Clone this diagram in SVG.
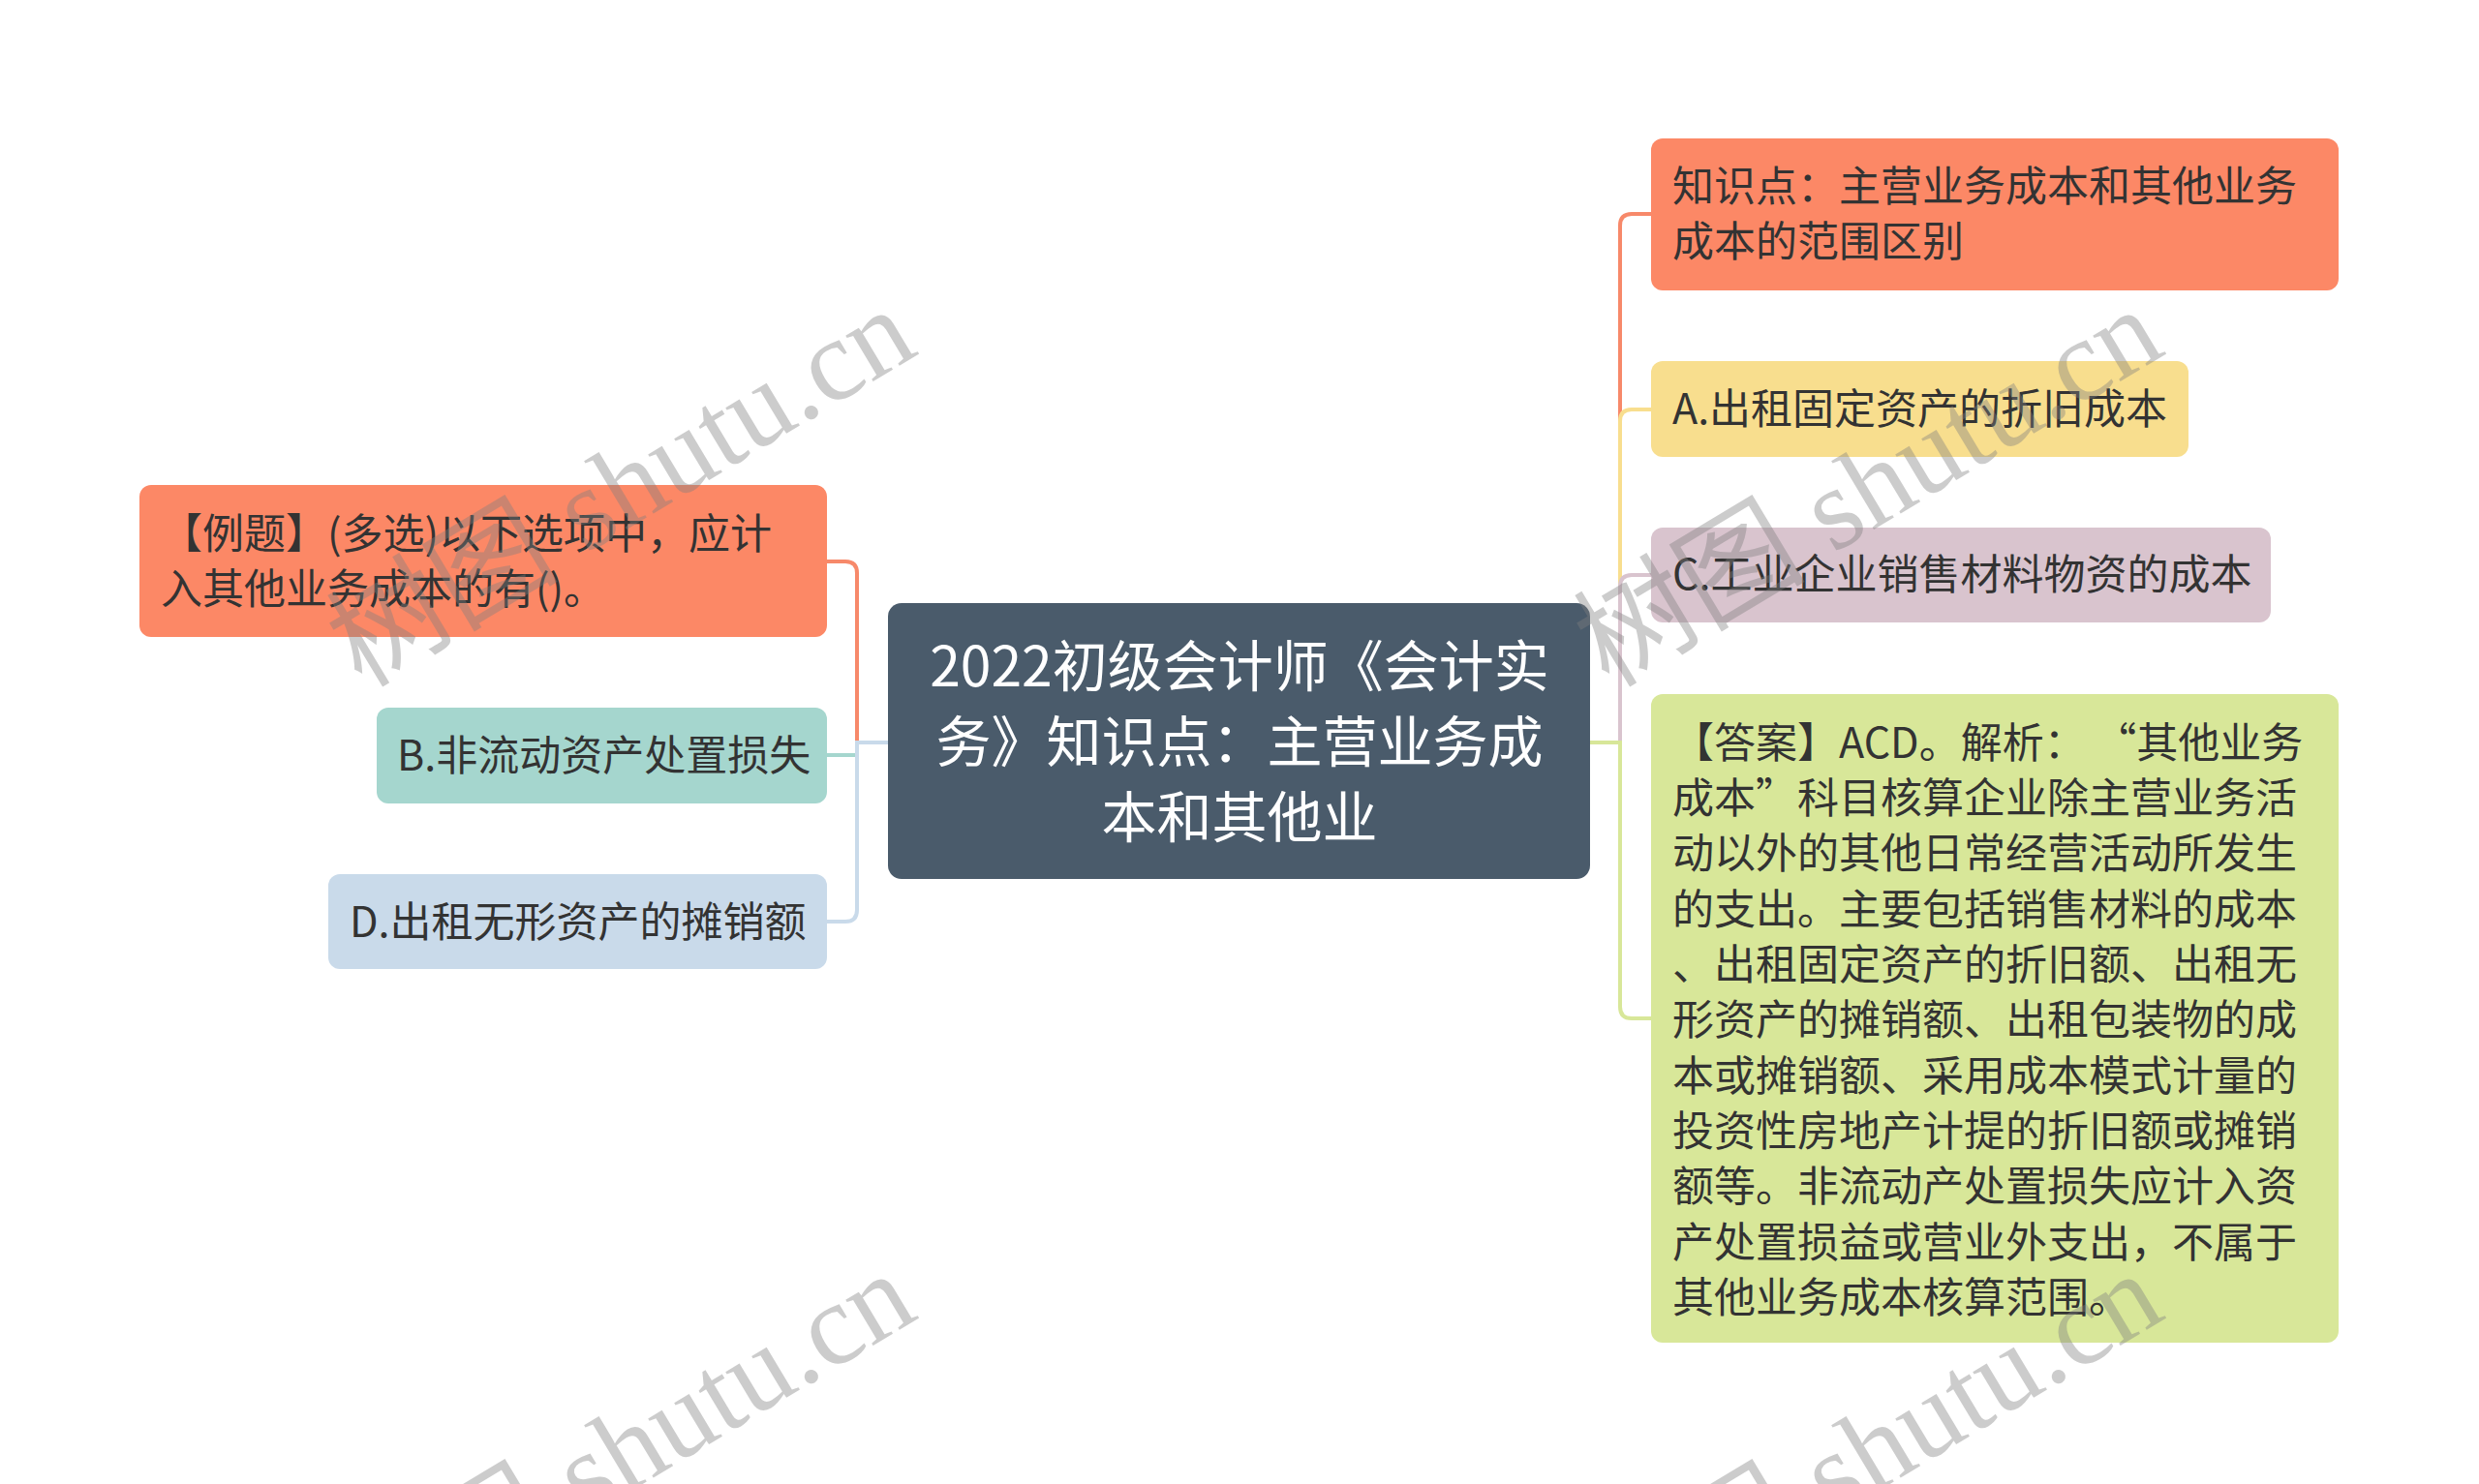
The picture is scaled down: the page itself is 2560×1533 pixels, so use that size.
<svg xmlns="http://www.w3.org/2000/svg" width="2560" height="1533" viewBox="0 0 2560 1533">
<style>
.t{font-family:"Noto Sans CJK SC","Noto Sans",sans-serif;font-size:43px;fill:#333333}
.ct{font-family:"Noto Sans CJK SC","Noto Sans",sans-serif;font-size:57px;fill:#ffffff;text-anchor:middle}
.ln{fill:none;stroke-width:4}
.wm{font-family:"Liberation Serif","Noto Sans CJK SC",serif;font-size:120px;fill:#808080;fill-opacity:0.4;text-anchor:middle}
</style>
<rect width="2560" height="1533" fill="#ffffff"/>
<g id="connectors">
<path class="ln" stroke="#F7896A" d="M885,767 V592 Q885,580 873,580 H854"/>
<path class="ln" stroke="#A5D6CE" d="M885,780 H854"/>
<path class="ln" stroke="#C9DAEA" d="M917,767 H885 V940 Q885,952 873,952 H854"/>
<path class="ln" stroke="#F7896A" d="M1673,767 V233 Q1673,221 1685,221 H1705"/>
<path class="ln" stroke="#F8DE8E" d="M1673,767 V435 Q1673,423 1685,423 H1705"/>
<path class="ln" stroke="#D9C4CE" d="M1673,767 V606 Q1673,594 1685,594 H1705"/>
<path class="ln" stroke="#D8E799" d="M1642,767 H1673 V1040 Q1673,1052 1685,1052 H1705"/>
</g>
<g id="center">
<rect x="917" y="623" width="725" height="285" rx="14" fill="#4A5B6B"/>
<text class="ct" x="1280" y="709">2022初级会计师《会计实</text>
<text class="ct" x="1280" y="787">务》知识点：主营业务成</text>
<text class="ct" x="1280" y="865">本和其他业</text>
</g>
<g id="n-zhishidian">
<rect x="1705" y="143" width="710" height="157" rx="12" fill="#FC8866"/>
<text class="t" x="1727" y="208">知识点：主营业务成本和其他业务</text>
<text class="t" x="1727" y="265">成本的范围区别</text>
</g>
<g id="n-a">
<rect x="1705" y="373" width="555" height="99" rx="12" fill="#F8DE8E"/>
<text class="t" x="1727" y="438">A.出租固定资产的折旧成本</text>
</g>
<g id="n-c">
<rect x="1705" y="545" width="640" height="98" rx="12" fill="#D9C4CE"/>
<text class="t" x="1727" y="609">C.工业企业销售材料物资的成本</text>
</g>
<g id="n-answer">
<rect x="1705" y="717" width="710" height="670" rx="12" fill="#D8E799"/>
<text class="t" x="1727" y="783">【答案】ACD。解析： “其他业务</text>
<text class="t" x="1727" y="840">成本”科目核算企业除主营业务活</text>
<text class="t" x="1727" y="897">动以外的其他日常经营活动所发生</text>
<text class="t" x="1727" y="955">的支出。主要包括销售材料的成本</text>
<text class="t" x="1727" y="1012">、出租固定资产的折旧额、出租无</text>
<text class="t" x="1727" y="1069">形资产的摊销额、出租包装物的成</text>
<text class="t" x="1727" y="1127">本或摊销额、采用成本模式计量的</text>
<text class="t" x="1727" y="1184">投资性房地产计提的折旧额或摊销</text>
<text class="t" x="1727" y="1241">额等。非流动产处置损失应计入资</text>
<text class="t" x="1727" y="1299">产处置损益或营业外支出，不属于</text>
<text class="t" x="1727" y="1356">其他业务成本核算范围。</text>
</g>
<g id="n-liti">
<rect x="144" y="501" width="710" height="157" rx="12" fill="#FC8866"/>
<text class="t" x="166" y="567">【例题】(多选)以下选项中，应计</text>
<text class="t" x="166" y="624">入其他业务成本的有()。</text>
</g>
<g id="n-b">
<rect x="389" y="731" width="465" height="99" rx="12" fill="#A5D6CE"/>
<text class="t" x="410" y="796">B.非流动资产处置损失</text>
</g>
<g id="n-d">
<rect x="339" y="903" width="515" height="98" rx="12" fill="#C9DAEA"/>
<text class="t" x="361" y="968">D.出租无形资产的摊销额</text>
</g>
<g id="watermarks">
<text class="wm" transform="translate(662,538) rotate(-31)">树图 shutu.cn</text>
<text class="wm" transform="translate(1950,538) rotate(-31)">树图 shutu.cn</text>
<text class="wm" transform="translate(662,1534) rotate(-31)">树图 shutu.cn</text>
<text class="wm" transform="translate(1950,1534) rotate(-31)">树图 shutu.cn</text>
</g>
</svg>
